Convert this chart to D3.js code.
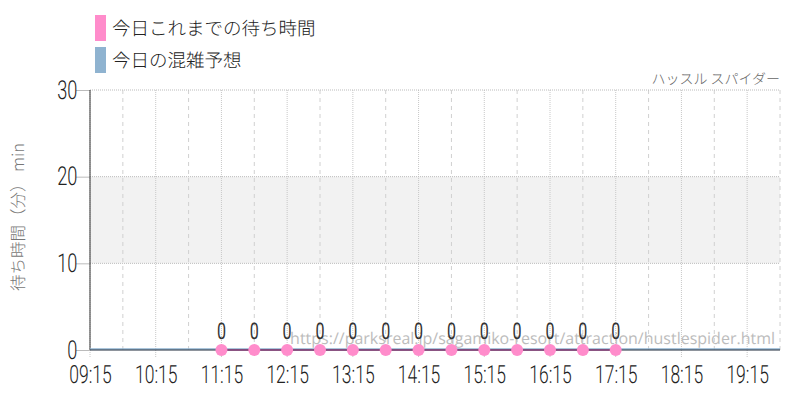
<!DOCTYPE html>
<meta charset="utf-8">
<style>
    body { margin: 0; background: #fff; }
    svg text { text-rendering: geometricPrecision; }
    .tick text { font-family: "Roboto", sans-serif; font-weight: 300; fill: #222; }
    .domain { display: none; }
</style>
<svg width="800" height="400"></svg>
<script src="https://cdn.jsdelivr.net/npm/d3@7"></script>
<script>
    // データ
    var seriesNames = ['今日これまでの待ち時間', '今日の混雑予想'];
    var seriesColors = ['#ff8ccb', '#8fb3d0'];
    var actualTimes = ['11:15', '11:45', '12:15', '12:45', '13:15', '13:45', '14:15',
        '14:45', '15:15', '15:45', '16:15', '16:45', '17:15'];
    var actualWait = [0, 0, 0, 0, 0, 0, 0, 0, 0, 0, 0, 0, 0];
    var forecastTimes = ['09:15', '10:15', '11:15', '12:15', '13:15', '14:15', '15:15',
        '16:15', '17:15', '18:15', '19:15', '19:45'];
    var forecastWait = [0, 0, 0, 0, 0, 0, 0, 0, 0, 0, 0, 0];
    var xTickLabels = ['09:15', '10:15', '11:15', '12:15', '13:15', '14:15', '15:15',
        '16:15', '17:15', '18:15', '19:15'];
    var halfHourLines = ['09:45', '10:45', '11:45', '12:45', '13:45', '14:45', '15:45',
        '16:45', '17:45', '18:45', '19:45'];
    var yTicks = [0, 10, 20, 30];
    var bandRange = [10, 20];
    var title = 'ハッスル スパイダー';
    var yLabel = '待ち時間（分） min';
    var sourceUrl = 'https://parksreal.jp/sagamiko-resort/attraction/hustlespider.html';

    var svg = d3.select('svg');
    var margin = { left: 90, top: 90, right: 20, bottom: 50 };
    var width = 800 - margin.left - margin.right;
    var height = 400 - margin.top - margin.bottom;
    var parseTime = d3.timeParse('%H:%M');
    var narrow = 'scale(0.7,1)';

    var x = d3.scaleTime()
        .domain([parseTime('09:15'), parseTime('19:45')])
        .range([0, width]);
    var y = d3.scaleLinear().domain([0, 30]).range([height, 0]);

    var g = svg.append('g')
        .attr('transform', `translate(${margin.left}, ${margin.top})`);

    // 混雑帯
    g.append('rect')
        .attr('x', 0)
        .attr('width', width)
        .attr('y', y(bandRange[1]))
        .attr('height', y(bandRange[0]) - y(bandRange[1]))
        .attr('fill', '#f2f2f2');

    // グリッド
    g.selectAll('.vgrid-h')
        .data(xTickLabels)
        .enter().append('line')
        .attr('x1', d => x(parseTime(d))).attr('x2', d => x(parseTime(d)))
        .attr('y1', 0).attr('y2', height + 8)
        .attr('stroke', '#c8c8c8').attr('stroke-dasharray', '1,1');
    g.selectAll('.vgrid-m')
        .data(halfHourLines)
        .enter().append('line')
        .attr('x1', d => x(parseTime(d))).attr('x2', d => x(parseTime(d)))
        .attr('y1', 0).attr('y2', height)
        .attr('stroke', '#d0d0d0').attr('stroke-dasharray', '4,4');
    g.selectAll('.hgrid')
        .data(yTicks.slice(1))
        .enter().append('line')
        .attr('x1', 0).attr('x2', width)
        .attr('y1', d => y(d)).attr('y2', d => y(d))
        .attr('stroke', '#bbb').attr('stroke-dasharray', '1,1');

    // 軸
    var xAxis = g.append('g')
        .attr('transform', `translate(0, ${height})`)
        .call(d3.axisBottom(x)
            .tickValues(xTickLabels.map(parseTime))
            .tickFormat(d3.timeFormat('%H:%M'))
            .tickSize(0).tickPadding(15));
    xAxis.selectAll('text').attr('font-size', 25).attr('transform', narrow);

    var yAxis = g.append('g')
        .call(d3.axisLeft(y).tickValues(yTicks).tickSize(14).tickPadding(4));
    yAxis.selectAll('line').attr('stroke', '#bbb');
    yAxis.selectAll('text').attr('font-size', 26).attr('transform', narrow);

    g.append('line')
        .attr('x1', 0).attr('x2', 0).attr('y1', 0).attr('y2', height)
        .attr('stroke', '#333');

    // 予想ライン
    var line = d3.line()
        .x(d => x(parseTime(d.t)))
        .y(d => y(d.v));
    g.append('path')
        .datum(forecastTimes.map((t, i) => ({ t: t, v: forecastWait[i] })))
        .attr('fill', 'none')
        .attr('stroke', '#8fb3d0')
        .attr('stroke-width', 1.5)
        .attr('transform', 'translate(0,-1)')
        .attr('d', line);
    g.append('line')
        .attr('x1', 0).attr('x2', width).attr('y1', height).attr('y2', height)
        .attr('stroke', '#1e2a3a').attr('stroke-width', 1.2);

    var actual = actualTimes.map((t, i) => ({ t: t, v: actualWait[i] }));
    g.append('path')
        .datum(actual)
        .attr('fill', 'none')
        .attr('stroke', '#8a3f7a')
        .attr('stroke-width', 1.5)
        .attr('d', line);

    // 出典URL
    g.append('text')
        .attr('x', width - 5)
        .attr('y', height - 6)
        .attr('text-anchor', 'end')
        .attr('font-family', '"Open Sans", sans-serif')
        .attr('font-size', 16)
        .attr('fill', '#bcbcbc')
        .text(sourceUrl);

    g.selectAll('.dot')
        .data(actual)
        .enter().append('circle')
        .attr('cx', d => x(parseTime(d.t)))
        .attr('cy', d => y(d.v))
        .attr('r', 6)
        .attr('fill', '#ff8ccb');
    g.selectAll('.val')
        .data(actual)
        .enter().append('g')
        .attr('transform', d => `translate(${x(parseTime(d.t))}, ${y(d.v) - 11})`)
        .append('text')
        .attr('transform', narrow)
        .attr('text-anchor', 'middle')
        .attr('font-family', '"Roboto", sans-serif')
        .attr('font-weight', 400)
        .attr('font-size', 23)
        .attr('fill', '#333')
        .text(d => d.v);

    // タイトル
    svg.append('text')
        .attr('x', 780).attr('y', 84)
        .attr('text-anchor', 'end')
        .attr('font-family', '"Noto Sans CJK JP", sans-serif')
        .attr('font-weight', 300)
        .attr('font-size', 14)
        .attr('fill', '#666')
        .text(title);

    svg.append('text')
        .attr('transform', 'translate(24, 217) rotate(-90)')
        .attr('text-anchor', 'middle')
        .attr('font-family', '"Noto Sans CJK JP", sans-serif')
        .attr('font-weight', 300)
        .attr('font-size', 16.5)
        .attr('fill', '#777')
        .text(yLabel);

    // 凡例
    var legend = svg.selectAll('.legend')
        .data(seriesNames)
        .enter().append('g')
        .attr('transform', (d, i) => `translate(95, ${15 + i * 32})`);
    legend.append('rect')
        .attr('width', 11).attr('height', 26)
        .attr('fill', (d, i) => seriesColors[i]);
    legend.append('text')
        .attr('x', 17).attr('y', 20)
        .attr('font-family', '"Noto Sans CJK JP", sans-serif')
        .attr('font-weight', 300)
        .attr('font-size', 18.5)
        .attr('fill', '#222')
        .text(d => d);
</script>
